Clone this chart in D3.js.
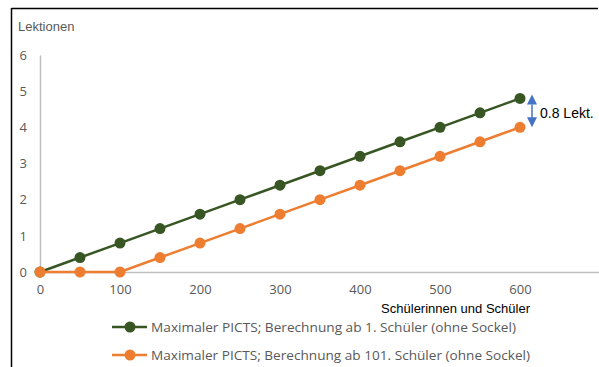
<!DOCTYPE html>
<html><head><meta charset="utf-8">
<script src="https://cdn.jsdelivr.net/npm/d3@7"></script>
<style>
body{margin:0;background:#fff;}
svg{display:block;}
</style></head>
<body><svg id="c" width="599" height="367"></svg>
<script>
const students = [0,50,100,150,200,250,300,350,400,450,500,550,600];
const seriesA = [0,0.4,0.8,1.2,1.6,2.0,2.4,2.8,3.2,3.6,4.0,4.4,4.8];
const seriesB = [0,0,0,0.4,0.8,1.2,1.6,2.0,2.4,2.8,3.2,3.6,4.0];
const seriesNames = ["Maximaler PICTS; Berechnung ab 1. Schüler (ohne Sockel)","Maximaler PICTS; Berechnung ab 101. Schüler (ohne Sockel)"];
const xTicks = [0,100,200,300,400,500,600];
const yTicks = [0,1,2,3,4,5,6];
const colors = ["#375623","#ED7D31"];

const svg = d3.select("#c");
const x = d3.scaleLinear().domain([0,700]).range([40,600]);
const y = d3.scaleLinear().domain([0,6]).range([272,55]);
const tickFont = "'Open Sans', 'Noto Sans', sans-serif";

// frame lines
svg.append("line").attr("x1",11.5).attr("x2",598).attr("y1",8.5).attr("y2",8.5).attr("stroke","#000").attr("stroke-width",1.5);
svg.append("line").attr("x1",11.5).attr("x2",11.5).attr("y1",8).attr("y2",367).attr("stroke","#000").attr("stroke-width",1.5);

// axes
const xAxis = svg.append("g").attr("transform","translate(0,272)")
  .call(d3.axisBottom(x).tickValues(xTicks).tickFormat(d3.format("d")).tickSize(0).tickPadding(13));
xAxis.select(".domain").attr("stroke","#bfbfbf").attr("stroke-width",1.5);
xAxis.selectAll("text").attr("fill","#595959").style("font-family",tickFont).style("font-size","13px");

const yAxis = svg.append("g").attr("transform","translate(40,0)")
  .call(d3.axisLeft(y).tickValues(yTicks).tickFormat(d3.format("d")).tickSize(0).tickPadding(13));
yAxis.select(".domain").attr("stroke","#bfbfbf").attr("stroke-width",1.5);
yAxis.selectAll("text").attr("fill","#595959").style("font-family",tickFont).style("font-size","13px");

svg.append("text").attr("x",18).attr("y",31).text("Lektionen")
  .attr("fill","#595959").style("font-family","'Liberation Sans', Arial, sans-serif").style("font-size","13px");
svg.append("text").attr("x",530).attr("y",313).attr("text-anchor","end").text("Schülerinnen und Schüler")
  .attr("fill","#000").style("font-family","'Liberation Sans', Arial, sans-serif").style("font-size","13px");

// series
const line = d3.line().x((d,i)=>x(students[i])).y(d=>y(d));
[seriesA, seriesB].forEach((s,k)=>{
  const g = svg.append("g");
  g.append("path").datum(s).attr("d",line).attr("fill","none").attr("stroke",colors[k]).attr("stroke-width",2.5);
  g.selectAll("circle").data(s).join("circle")
    .attr("cx",(d,i)=>x(students[i])).attr("cy",d=>y(d)).attr("r",5.5).attr("fill",colors[k]);
});

// annotation arrow
const ax = 532;
const yTop = y(seriesA[seriesA.length-1]), yBot = y(seriesB[seriesB.length-1]);
const blue = "#4472C4";
svg.append("line").attr("x1",ax).attr("x2",ax).attr("y1",yTop+6).attr("y2",yBot-6).attr("stroke",blue).attr("stroke-width",1.5);
svg.append("path").attr("d",`M${ax},${yTop-4} L${ax-5},${yTop+6} L${ax+5},${yTop+6} Z`).attr("fill",blue);
svg.append("path").attr("d",`M${ax},${yBot+0} L${ax-5},${yBot-10} L${ax+5},${yBot-10} Z`).attr("fill",blue);
svg.append("text").attr("x",540).attr("y",(yTop+yBot)/2+5).text("0.8 Lekt.")
  .attr("fill","#000").style("font-family","'Liberation Sans', Arial, sans-serif").style("font-size","14px");

// legend
const legY = [327,355];
seriesNames.forEach((n,k)=>{
  const g = svg.append("g");
  g.append("line").attr("x1",112).attr("x2",147).attr("y1",legY[k]).attr("y2",legY[k]).attr("stroke",colors[k]).attr("stroke-width",2.5);
  g.append("circle").attr("cx",130).attr("cy",legY[k]).attr("r",5.5).attr("fill",colors[k]);
  const t = g.append("text").attr("x",151).attr("y",legY[k]+4.5).text(n)
    .attr("fill","#595959").style("font-family",tickFont).style("font-size","12.5px");
  const target = k===0 ? 365 : 379;
  const w = t.node().getComputedTextLength();
  if (Math.abs(w-target) > 3) t.attr("textLength",target).attr("lengthAdjust","spacingAndGlyphs");
});
</script></body></html>
